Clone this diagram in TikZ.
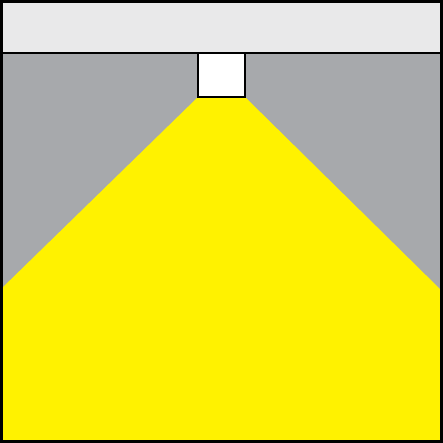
\documentclass[tikz,border=0pt]{standalone}
\definecolor{ceiling}{HTML}{E9E9EA}
\definecolor{wall}{HTML}{A7A9AC}
\definecolor{beam}{HTML}{FFF200}
\begin{document}
\begin{tikzpicture}[x=1pt,y=-1pt]
\useasboundingbox (0,0) rectangle (443,443);
\fill [wall] (0,53) rectangle (443,443);
\fill [ceiling] (0,0) rectangle (443,53);
\coordinate (lampbl) at (198,97);
\coordinate (lampbr) at (245,97);
\fill [beam] (lampbl) -- (lampbr) -- (443,292) -- (443,443) -- (0,443) -- (0,290) -- cycle;
\draw [line width=1.5] (0,53) -- (443,53);
\draw [line width=1.5, fill=white] (198,53) rectangle (245,97);
\draw [line width=3] (1.5,1.5) rectangle (441.5,441.5);
\end{tikzpicture}
\end{document}
